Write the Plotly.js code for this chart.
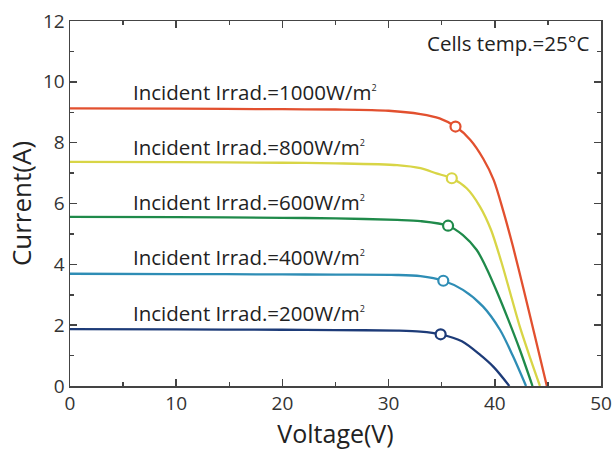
<!DOCTYPE html>
<html>
<head>
<meta charset="utf-8">
<script src="https://cdn.plot.ly/plotly-3.0.1.min.js"></script>
<style>html,body{margin:0;padding:0;background:#fff;}#chart{width:614px;height:452px;}</style>
</head>
<body>
<div id="chart"></div>
<script>
// Data
const seriesNames = ["1000", "800", "600", "400", "200"];
const colors = ["#e2502f", "#d8d546", "#1f8a4a", "#2e8db5", "#1d3b78"];

const v1000 = [0, 10, 20, 25, 30, 33.0, 34.8, 36.3, 37.7, 38.9, 39.9, 40.8, 41.7, 42.7, 43.7, 44.9];
const i1000 = [9.13, 9.12, 9.10, 9.09, 9.05, 8.94, 8.80, 8.53, 8.09, 7.48, 6.77, 5.75, 4.6, 3.2, 1.75, 0];

const v800 = [0, 10, 20, 25, 30.8, 33.0, 34.5, 35.95, 37.35, 38.6, 39.65, 40.6, 41.5, 42.4, 43.35, 44.25];
const i800 = [7.37, 7.36, 7.34, 7.32, 7.26, 7.16, 6.99, 6.83, 6.5, 5.9, 5.13, 4.1, 3.0, 1.9, 0.9, 0];

const v600 = [0, 10, 20, 25, 30.8, 33.0, 35.6, 37.0, 38.3, 39.25, 40.2, 41.25, 42.35, 43.55];
const i600 = [5.56, 5.55, 5.53, 5.51, 5.46, 5.42, 5.27, 4.96, 4.47, 3.85, 3.1, 2.2, 1.2, 0];

const v400 = [0, 10, 20, 25, 30.8, 33.0, 35.15, 37.0, 38.9, 40.5, 41.74, 42.94];
const i400 = [3.69, 3.68, 3.67, 3.66, 3.65, 3.61, 3.46, 3.16, 2.61, 1.84, 0.96, 0];

const v200 = [0, 10, 20, 25, 30.8, 33.0, 34.9, 36.9, 38.6, 39.9, 41.37];
const i200 = [1.87, 1.86, 1.85, 1.84, 1.82, 1.79, 1.70, 1.47, 1.03, 0.62, 0];

const mppV = [36.3, 35.95, 35.6, 35.15, 34.9];
const mppI = [8.53, 6.83, 5.27, 3.46, 1.70];

const labelX = [5.72, 5.72, 5.72, 5.72, 5.72];
const labelY = [9.67, 7.87, 6.06, 4.23, 2.41];

const xTicks = [0, 10, 20, 30, 40, 50];
const yTicks = [0, 2, 4, 6, 8, 10, 12];

const voltages = [v1000, v800, v600, v400, v200];
const currents = [i1000, i800, i600, i400, i200];

const traces = [];
for (let k = 0; k < seriesNames.length; k++) {
  traces.push({
    x: voltages[k], y: currents[k], type: "scatter", mode: "lines",
    line: {color: colors[k], width: 2.3, shape: "spline", smoothing: 0.8},
    showlegend: false, hoverinfo: "skip"
  });
}
traces.push({
  x: mppV, y: mppI, type: "scatter", mode: "markers",
  marker: {symbol: "circle", size: 10, color: "#ffffff", line: {color: colors, width: 2.2}},
  showlegend: false, hoverinfo: "skip"
});

const txtFont = {family: "Open Sans", size: 20.5, color: "#222"};
const annotations = seriesNames.map((n, k) => ({
  x: labelX[k], y: labelY[k], xref: "x", yref: "y",
  text: "Incident Irrad.=" + n + "W/m<sup><span style='font-size:9px'>2</span></sup>",
  showarrow: false, xanchor: "left", yanchor: "middle",
  font: txtFont
}));
annotations.push({
  x: 1, y: 1, xref: "paper", yref: "paper", xshift: -9, yshift: -22,
  text: "Cells temp.=25°C", showarrow: false, xanchor: "right", yanchor: "middle",
  font: txtFont
});

const tickCol = "#444";
const layout = {
  width: 614, height: 452,
  margin: {l: 70, r: 13, t: 21, b: 66},
  paper_bgcolor: "#ffffff", plot_bgcolor: "#ffffff",
  xaxis: {
    range: [0, 50], tickmode: "array", tickvals: xTicks, ticktext: xTicks.map(String),
    showline: true, linecolor: "#444", linewidth: 1.5, mirror: "allticks",
    ticks: "inside", ticklen: 7, tickwidth: 1.5, tickcolor: tickCol,
    showgrid: false, zeroline: false,
    tickfont: {family: "Open Sans", size: 19, color: "#333"},
    minor: {tick0: 0, dtick: 5, ticks: "inside", ticklen: 4, tickwidth: 1.5, tickcolor: tickCol},
    title: {text: "Voltage(V)", font: {family: "Open Sans", size: 25, color: "#222"}, standoff: 8}
  },
  yaxis: {
    range: [0, 12], tickmode: "array", tickvals: yTicks, ticktext: yTicks.map(String),
    showline: true, linecolor: "#444", linewidth: 1.5, mirror: "allticks",
    ticks: "inside", ticklen: 7, tickwidth: 1.5, tickcolor: tickCol,
    showgrid: false, zeroline: false,
    tickfont: {family: "Open Sans", size: 19, color: "#333"},
    minor: {tick0: 0, dtick: 1, ticks: "inside", ticklen: 4, tickwidth: 1.5, tickcolor: tickCol},
    title: {text: "Current(A)", font: {family: "Open Sans", size: 26, color: "#222"}, standoff: 4}
  },
  annotations: annotations
};

Plotly.newPlot("chart", traces, layout, {displayModeBar: false, staticPlot: true});
</script>
</body>
</html>
